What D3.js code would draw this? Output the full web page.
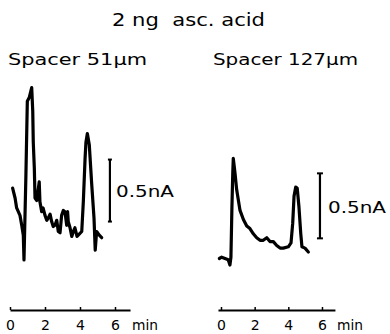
<!DOCTYPE html>
<html>
<head>
<meta charset="utf-8">
<script src="https://cdn.jsdelivr.net/npm/d3@7"></script>
<style>
  body { margin: 0; background: #fff; }
  svg { display: block; }
</style>
</head>
<body>
<div id="chart"></div>
<script>
// time in min, current in nA (relative to trace minimum)
var leftTime = [0.15, 0.29, 0.38, 0.57, 0.67, 0.76, 0.80, 0.91, 0.99, 1.10, 1.24, 1.30, 1.33, 1.39, 1.43, 1.53, 1.67, 1.71, 1.81, 1.89, 2.00, 2.10, 2.19, 2.29, 2.38, 2.47, 2.57, 2.67, 2.76, 2.86, 2.95, 3.05, 3.14, 3.24, 3.29, 3.33, 3.43, 3.53, 3.62, 3.71, 3.83, 3.90, 4.10, 4.19, 4.29, 4.34, 4.42, 4.53, 4.67, 4.80, 4.87, 4.95, 5.10, 5.24];
var leftCurrent = [0.58, 0.50, 0.42, 0.36, 0.28, 0.20, 0.00, 0.69, 1.28, 1.31, 1.39, 1.20, 0.95, 0.74, 0.50, 0.48, 0.63, 0.47, 0.39, 0.42, 0.36, 0.32, 0.34, 0.37, 0.31, 0.27, 0.28, 0.32, 0.23, 0.22, 0.36, 0.40, 0.39, 0.28, 0.39, 0.31, 0.26, 0.19, 0.23, 0.26, 0.19, 0.20, 0.23, 0.47, 0.82, 0.95, 1.02, 0.93, 0.61, 0.34, 0.08, 0.23, 0.20, 0.18];

var rightTime = [-0.10, 0.04, 0.24, 0.43, 0.53, 0.59, 0.65, 0.70, 0.73, 0.83, 0.93, 1.13, 1.33, 1.53, 1.72, 1.92, 2.12, 2.32, 2.51, 2.72, 2.91, 3.11, 3.31, 3.51, 3.70, 4.00, 4.16, 4.26, 4.34, 4.44, 4.53, 4.63, 4.74, 4.81, 4.99, 5.19];
var rightCurrent = [0.05, 0.06, 0.05, 0.04, 0.00, 0.06, 0.45, 0.71, 0.82, 0.71, 0.58, 0.42, 0.35, 0.30, 0.28, 0.24, 0.21, 0.19, 0.19, 0.21, 0.18, 0.18, 0.15, 0.13, 0.13, 0.14, 0.17, 0.32, 0.53, 0.60, 0.59, 0.45, 0.24, 0.14, 0.13, 0.10];

var timeTicks = [0, 2, 4, 6];
var titleText = "2 ng\u00a0 asc. acid";
var panelTitles = ["Spacer 51\u00b5m", "Spacer 127\u00b5m"];
var scaleLabel = "0.5nA";
var scaleValue = 0.5;

var width = 390, height = 334;

var svg = d3.select("#chart")
  .append("svg")
  .attr("width", width)
  .attr("height", height)
  .style("font-family", "DejaVu Sans");

// panel layout (pixels) for each trace
var panels = [
  {time: leftTime, current: leftCurrent, x0: 10, pxPerMin: 17.5, y0: 260, pxPerNA: 124,
   axisFrom: 0, axisTo: 6.86, axisY: 310, barT: 5.71, barBase: 0.31, barCap: 2,
   title: panelTitles[0], titleX: 8, titleLen: 139, labelX: 116, labelY: 197, minX: 132},
  {time: rightTime, current: rightCurrent, x0: 221, pxPerMin: 16.83, y0: 265, pxPerNA: 130,
   axisFrom: -0.18, axisTo: 6.77, axisY: 310, barT: 5.88, barBase: 0.205, barCap: 3,
   title: panelTitles[1], titleX: 213, titleLen: 145, labelX: 328, labelY: 213, minX: 337}
];

svg.append("text")
  .attr("x", 112)
  .attr("y", 26)
  .attr("textLength", 153)
  .attr("lengthAdjust", "spacingAndGlyphs")
  .style("font-size", "17px")
  .style("fill", "#000")
  .text(titleText);

panels.forEach(function (p) {
  var x = d3.scaleLinear()
    .domain([p.axisFrom, p.axisTo])
    .range([p.x0 + p.pxPerMin * p.axisFrom, p.x0 + p.pxPerMin * p.axisTo]);
  var y = d3.scaleLinear()
    .domain([0, 1])
    .range([p.y0, p.y0 - p.pxPerNA]);

  svg.append("text")
    .attr("x", p.titleX)
    .attr("y", 65)
    .attr("textLength", p.titleLen)
    .attr("lengthAdjust", "spacingAndGlyphs")
    .style("font-size", "16px")
    .style("fill", "#000")
    .text(p.title);

  // the trace
  var pts = p.time.map(function (t, i) { return [t, p.current[i]]; });
  svg.append("path")
    .datum(pts)
    .attr("fill", "none")
    .attr("stroke", "#000")
    .attr("stroke-width", 3.2)
    .attr("stroke-linejoin", "round")
    .attr("stroke-linecap", "round")
    .attr("d", d3.line()
      .x(function (d) { return x(d[0]); })
      .y(function (d) { return y(d[1]); }));

  // 0.5 nA scale bar
  var bx = x(p.barT);
  var yb = y(p.barBase), yt = y(p.barBase + scaleValue);
  svg.append("line")
    .attr("x1", bx).attr("x2", bx)
    .attr("y1", yb).attr("y2", yt)
    .attr("stroke", "#000")
    .attr("stroke-width", 2.2);
  [yb, yt].forEach(function (yy) {
    svg.append("line")
      .attr("x1", bx - p.barCap).attr("x2", bx + p.barCap)
      .attr("y1", yy).attr("y2", yy)
      .attr("stroke", "#000")
      .attr("stroke-width", 2);
  });
  svg.append("text")
    .attr("x", p.labelX)
    .attr("y", p.labelY)
    .attr("textLength", 58)
    .attr("lengthAdjust", "spacingAndGlyphs")
    .style("font-size", "15px")
    .style("fill", "#000")
    .text(scaleLabel);

  // time axis
  var axis = svg.append("g")
    .attr("transform", "translate(0," + p.axisY + ")")
    .call(d3.axisBottom(x)
      .tickValues(timeTicks)
      .tickFormat(d3.format("d"))
      .tickSizeInner(-3)
      .tickSizeOuter(0)
      .tickPadding(10));
  axis.select(".domain")
    .attr("stroke", "#000")
    .attr("stroke-width", 2);
  axis.selectAll(".tick line")
    .attr("stroke", "#000")
    .attr("stroke-width", 1.5);
  axis.selectAll(".tick text")
    .style("font-family", "DejaVu Sans")
    .style("font-size", "14px")
    .style("fill", "#000");

  svg.append("text")
    .attr("x", p.minX)
    .attr("y", p.axisY + 20)
    .attr("textLength", 26)
    .attr("lengthAdjust", "spacingAndGlyphs")
    .style("font-size", "14px")
    .style("fill", "#000")
    .text("min");
});
</script>
</body>
</html>
